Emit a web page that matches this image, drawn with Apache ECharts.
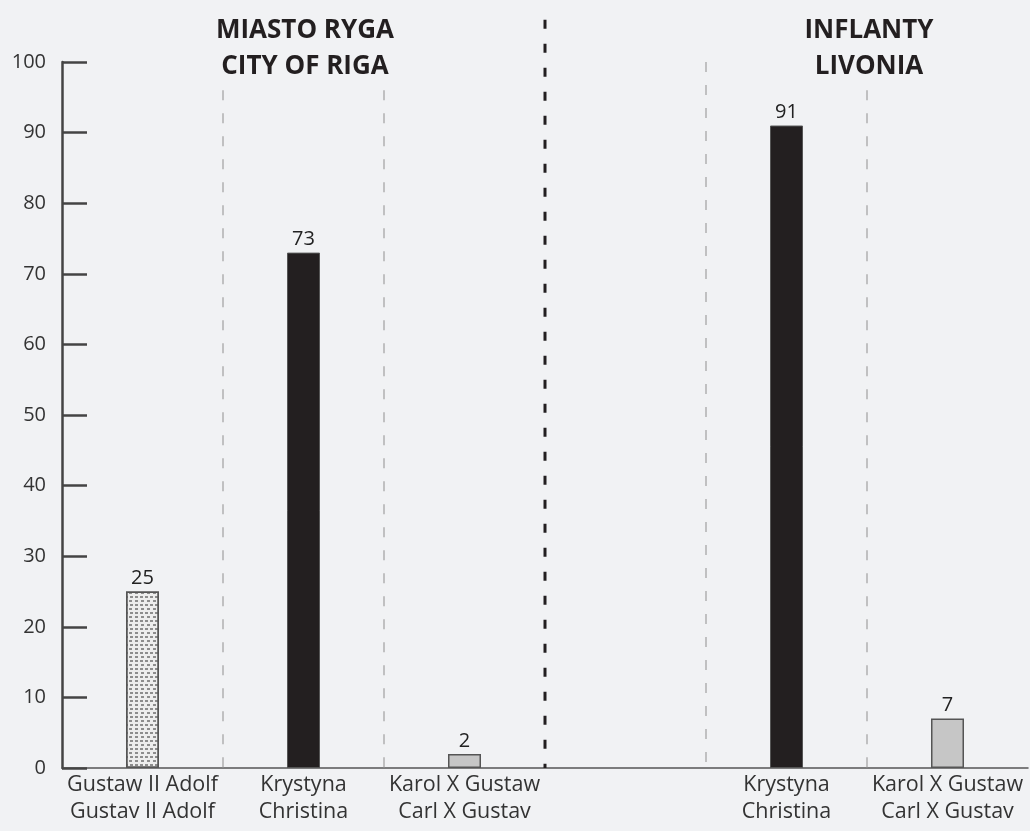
<!DOCTYPE html>
<html>
<head>
<meta charset="utf-8">
<script src="https://cdn.jsdelivr.net/npm/echarts@6/dist/echarts.min.js"></script>
<style>
html,body{margin:0;padding:0;background:#f1f2f4;}
#chart{width:1030px;height:831px;}
</style>
</head>
<body>
<div id="chart"></div>
<script>
// ---- data ----
const categoriesPL = ['Gustaw II Adolf', 'Krystyna', 'Karol X Gustaw', '', 'Krystyna', 'Karol X Gustaw'];
const categoriesEN = ['Gustav II Adolf', 'Christina', 'Carl X Gustav', '', 'Christina', 'Carl X Gustav'];
const values = [25, 73, 2, null, 91, 7];
const yTicks = [0, 10, 20, 30, 40, 50, 60, 70, 80, 90, 100];
const groupTitles = ['MIASTO RYGA\nCITY OF RIGA', 'INFLANTY\nLIVONIA'];
// separator positions (category boundaries) and their top values
const separatorPos = [1, 2, 3, 4, 5];
const separatorTop = [96, 96, 106, 100, 96];

// ---- styles ----
const FONT = '"Open Sans", "Noto Sans", sans-serif';
const DARK = '#231f20';
const barStyles = [
  { color: '#ededed', borderColor: '#555', borderWidth: 1.5,
    decal: { symbol: 'rect', symbolSize: 1, color: 'rgba(100,100,100,0.7)',
             dashArrayX: [[3, 2], [0, 2.5, 3, 0]], dashArrayY: [1.5, 2] } },
  { color: DARK, borderColor: '#555', borderWidth: 1 },
  { color: '#c6c6c6', borderColor: '#555', borderWidth: 1.5 },
  null,
  { color: DARK, borderColor: '#555', borderWidth: 1 },
  { color: '#c6c6c6', borderColor: '#555', borderWidth: 1.5 }
];

const barData = values.map((v, i) => v == null ? null : { value: v, itemStyle: barStyles[i] });

const separatorSeries = separatorPos.map((p, i) => {
  const isMain = p === 3;
  return {
    type: 'line',
    xAxisIndex: 1,
    yAxisIndex: 0,
    data: [[p, separatorTop[i]], [p, 0]],
    symbol: 'none',
    clip: false,
    silent: true,
    z: 1,
    lineStyle: isMain
      ? { color: DARK, width: 3, type: [9, 15] }
      : { color: '#b0b0b0', width: 1.5, type: [10, 13] }
  };
});

const chart = echarts.init(document.getElementById('chart'));
chart.setOption({
  backgroundColor: '#f1f2f4',
  animation: false,
  grid: { left: 62, right: 2, top: 62, bottom: 63 },
  xAxis: [
    {
      type: 'category',
      data: categoriesPL.map((c, i) => c ? c + '\n' + categoriesEN[i] : ''),
      boundaryGap: true,
      axisLine: { lineStyle: { color: '#555', width: 1.5 } },
      axisTick: { show: false },
      axisLabel: { interval: 0, color: '#333', fontFamily: FONT, fontSize: 21.5, lineHeight: 27, margin: 3 },
      splitLine: { show: false }
    },
    { type: 'value', min: 0, max: 6, show: false }
  ],
  yAxis: {
    type: 'value',
    min: yTicks[0],
    max: yTicks[yTicks.length - 1],
    interval: yTicks[1] - yTicks[0],
    axisLine: { show: true, lineStyle: { color: '#444', width: 2.5 } },
    axisTick: { show: true, inside: true, length: 25, lineStyle: { color: '#444', width: 2.5 } },
    axisLabel: { color: '#333', fontFamily: FONT, fontSize: 20, margin: 16 },
    splitLine: { show: false }
  },
  graphic: [
    { type: 'text', x: 305, y: 13, z: 10,
      style: { text: groupTitles[0], align: 'center', verticalAlign: 'top', fill: DARK,
               font: 'bold 26px ' + FONT, lineHeight: 36 } },
    { type: 'text', x: 869, y: 13, z: 10,
      style: { text: groupTitles[1], align: 'center', verticalAlign: 'top', fill: DARK,
               font: 'bold 26px ' + FONT, lineHeight: 36 } }
  ],
  series: [
    ...separatorSeries,
    {
      type: 'bar',
      data: barData,
      barWidth: 33,
      z: 3,
      label: { show: true, position: 'top', distance: 3, color: '#222', fontFamily: FONT, fontSize: 20 }
    }
  ]
});
</script>
</body>
</html>
